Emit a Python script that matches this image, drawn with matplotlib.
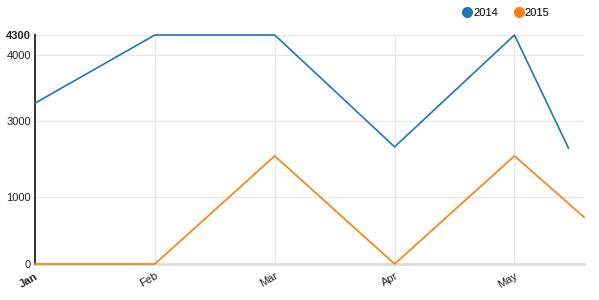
import numpy as np
import matplotlib

matplotlib.use("Agg")
import matplotlib.pyplot as plt
from matplotlib.lines import Line2D

plt.rcParams["font.family"] = ["Liberation Sans", "DejaVu Sans"]

# data
months = ["Jan", "Feb", "Mar", "Apr", "May"]
x_2014 = [0, 1, 2, 3, 4, 4.45]
y_2014 = [3270, 4300, 4300, 2320, 4300, 2290]
x_2015 = [0, 1, 2, 3, 4, 4.58]
y_2015 = [0, 0, 2080, 0, 2080, 700]
y_ticks = [0, 1000, 3000, 4000, 4300]
# odd non-linear axis of the original: tick value -> relative position
y_tick_pos = [0, 67, 143, 209, 229]

BLUE = "#1f77b4"
ORANGE = "#ff7f0e"
INK = "#222222"
GRID = "#e6e6e6"


def fwd(v):
    return np.interp(v, y_ticks, y_tick_pos)


def inv(p):
    return np.interp(p, y_tick_pos, y_ticks)


fig = plt.figure(figsize=(5.99, 3.0), dpi=100)
ax = fig.add_axes([35 / 599, 1 - 264 / 300, 549 / 599, 229 / 300])

ax.plot(x_2015, y_2015, color=ORANGE, lw=1.2, zorder=4, clip_on=False)
ax.plot(x_2014, y_2014, color=BLUE, lw=1.2, zorder=4, clip_on=False)

ax.set_yscale("function", functions=(fwd, inv))
ax.set_ylim(0, 4300)
ax.set_xlim(0, 4.58)
ax.set_yticks(y_ticks)
ax.set_yticklabels([str(v) for v in y_ticks])
ax.set_xticks(range(len(months)))
ax.set_xticklabels(months, rotation=30, ha="right", rotation_mode="anchor")

ax.get_yticklabels()[-1].set_fontweight("bold")
ax.get_xticklabels()[0].set_fontweight("bold")

ax.tick_params(axis="both", length=0, labelsize=8, colors=INK)
ax.tick_params(axis="y", pad=3)
ax.tick_params(axis="x", pad=5)
ax.grid(True, color=GRID, lw=0.8)
ax.set_axisbelow(True)

for side in ("top", "right"):
    ax.spines[side].set_visible(False)
ax.spines["left"].set_color("#333333")
ax.spines["left"].set_linewidth(1.4)
ax.spines["bottom"].set_color("#dddddd")
ax.spines["bottom"].set_linewidth(2)
ax.spines["bottom"].set_zorder(2)

handles = [
    Line2D([], [], ls="", marker="o", ms=7, color=BLUE, label="2014"),
    Line2D([], [], ls="", marker="o", ms=7, color=ORANGE, label="2015"),
]
fig.legend(handles=handles, loc="upper right", bbox_to_anchor=(557 / 599, 1.0),
           ncol=2, frameon=False, fontsize=8, handletextpad=0.0,
           columnspacing=1.4, handlelength=1.0, borderaxespad=0.3)

fig.savefig("out.png", dpi=100)
